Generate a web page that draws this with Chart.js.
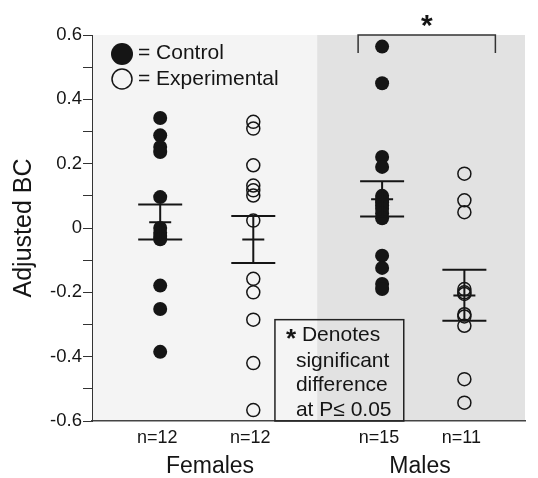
<!DOCTYPE html>
<html>
<head>
<meta charset="utf-8">
<script src="https://cdn.jsdelivr.net/npm/chart.js@4"></script>
<style>
html,body{margin:0;padding:0;background:#fff;}
canvas{display:block;}
</style>
</head>
<body>
<canvas id="c" width="538" height="478"></canvas>
<script>
// ---- data ----
const sexCategories = ['Females', 'Males'];
const groupNames = ['Female Control', 'Female Experimental', 'Male Control', 'Male Experimental'];
const nLabels = ['n=12', 'n=12', 'n=15', 'n=11'];
const femaleControl = [0.342, 0.288, 0.252, 0.236, 0.096, 0.0, -0.015, -0.025, -0.035, -0.179, -0.252, -0.385];
const femaleExperimental = [0.330, 0.309, 0.195, 0.132, 0.117, 0.101, 0.023, -0.158, -0.200, -0.285, -0.420, -0.566];
const maleControl = [0.564, 0.450, 0.221, 0.190, 0.100, 0.090, 0.080, 0.070, 0.060, 0.045, 0.030, -0.086, -0.124, -0.174, -0.190];
const maleExperimental = [0.169, 0.086, 0.049, -0.190, -0.200, -0.205, -0.268, -0.275, -0.304, -0.470, -0.543];
const groupMeans = [0.018, -0.036, 0.089, -0.210];
const groupUpperSE = [0.073, 0.037, 0.145, -0.130];
const groupLowerSE = [-0.036, -0.109, 0.036, -0.288];
const yTickLabels = ['-0.6', '-0.4', '-0.2', '0', '0.2', '0.4', '0.6'];
const legendLabels = ['= Control', '= Experimental'];
const noteLines = ['Denotes', 'significant', 'difference', 'at P\u2264 0.05'];

// ---- layout along the x axis (axis units) ----
const groupPos = [0.63, 1.49, 2.68, 3.44];
const sexPos = [1.09, 3.03];
const sexBoundary = 2.08;

const FONT = '"Liberation Sans", Arial, Helvetica, sans-serif';
const INK = '#151515';

const seriesValues = [femaleControl, femaleExperimental, maleControl, maleExperimental];
const datasets = seriesValues.map((vals, i) => {
  const filled = i % 2 === 0;
  return {
    label: groupNames[i],
    data: vals.map(v => ({x: groupPos[i], y: v})),
    pointRadius: filled ? 7 : 6.5,
    pointHoverRadius: filled ? 7 : 6.5,
    backgroundColor: filled ? INK : 'rgba(0,0,0,0)',
    borderColor: INK,
    borderWidth: filled ? 0 : 1.5,
    pointStyle: 'circle'
  };
});

const decorPlugin = {
  id: 'decor',
  beforeDraw(chart) {
    const {ctx, chartArea: a, scales: {x}} = chart;
    ctx.save();
    ctx.fillStyle = '#ffffff';
    ctx.fillRect(0, 0, chart.width, chart.height);
    const xb = x.getPixelForValue(sexBoundary);
    ctx.fillStyle = '#f4f4f4';
    ctx.fillRect(a.left, a.top, xb - a.left, a.bottom - a.top);
    ctx.fillStyle = '#e2e2e2';
    ctx.fillRect(xb, a.top, a.right - xb, a.bottom - a.top);
    ctx.restore();
  },
  afterDatasetsDraw(chart) {
    const {ctx, scales: {x, y}} = chart;
    ctx.save();
    ctx.strokeStyle = INK;
    ctx.lineWidth = 2;
    groupPos.forEach((p, i) => {
      const px = x.getPixelForValue(p);
      const yu = y.getPixelForValue(groupUpperSE[i]);
      const ym = y.getPixelForValue(groupMeans[i]);
      const yl = y.getPixelForValue(groupLowerSE[i]);
      ctx.beginPath();
      ctx.moveTo(px, yu); ctx.lineTo(px, yl);
      ctx.moveTo(px - 22, yu); ctx.lineTo(px + 22, yu);
      ctx.moveTo(px - 22, yl); ctx.lineTo(px + 22, yl);
      ctx.moveTo(px - 11, ym); ctx.lineTo(px + 11, ym);
      ctx.stroke();
    });
    ctx.restore();
  },
  afterDraw(chart) {
    const {ctx, chartArea: a, scales: {x, y}} = chart;
    ctx.save();
    ctx.fillStyle = INK;
    ctx.strokeStyle = INK;

    // legend
    const lx = a.left + 30;
    ctx.beginPath(); ctx.arc(lx, a.top + 19, 11, 0, Math.PI * 2); ctx.fill();
    ctx.lineWidth = 1.5;
    ctx.beginPath(); ctx.arc(lx, a.top + 44, 10, 0, Math.PI * 2); ctx.stroke();
    ctx.font = '21px ' + FONT;
    ctx.textAlign = 'left'; ctx.textBaseline = 'middle';
    ctx.fillText(legendLabels[0], a.left + 46, a.top + 18);
    ctx.fillText(legendLabels[1], a.left + 46, a.top + 44);

    // significance bracket
    const bx1 = x.getPixelForValue(groupPos[2]) - 24;
    const bx2 = x.getPixelForValue(groupPos[3]) + 31;
    const by = a.top;
    ctx.lineWidth = 1.5;
    ctx.strokeStyle = '#333';
    ctx.beginPath();
    ctx.moveTo(bx1, by + 18); ctx.lineTo(bx1, by); ctx.lineTo(bx2, by); ctx.lineTo(bx2, by + 18);
    ctx.stroke();
    ctx.font = 'bold 30px ' + FONT;
    ctx.textAlign = 'center'; ctx.textBaseline = 'middle';
    ctx.fillText('*', (bx1 + bx2) / 2, 27);

    // note box
    const boxL = x.getPixelForValue(1.69), boxR = x.getPixelForValue(2.88);
    const boxT = y.getPixelForValue(-0.285), boxB = a.bottom;
    ctx.strokeStyle = '#222';
    ctx.lineWidth = 1.5;
    ctx.strokeRect(boxL, boxT, boxR - boxL, boxB - boxT);
    ctx.fillStyle = INK;
    ctx.font = 'bold 26px ' + FONT;
    ctx.textAlign = 'center';
    ctx.fillText('*', boxL + 16, boxT + 20);
    ctx.font = '21px ' + FONT;
    ctx.textAlign = 'left';
    ctx.fillText(noteLines[0], boxL + 27, boxT + 16);
    ctx.fillText(noteLines[1], boxL + 21, boxT + 42);
    ctx.fillText(noteLines[2], boxL + 21, boxT + 66);
    ctx.fillText(noteLines[3], boxL + 21, boxT + 91);

    // n labels and sex labels
    ctx.fillStyle = INK;
    ctx.textAlign = 'center';
    ctx.font = '18px ' + FONT;
    groupPos.forEach((p, i) => {
      ctx.fillText(nLabels[i], x.getPixelForValue(p) - 3, a.bottom + 17);
    });
    ctx.font = '23px ' + FONT;
    sexPos.forEach((p, i) => {
      ctx.fillText(sexCategories[i], x.getPixelForValue(p), a.bottom + 46);
    });

    // y title
    ctx.save();
    ctx.translate(24, (a.top + a.bottom) / 2);
    ctx.rotate(-Math.PI / 2);
    ctx.font = '25px ' + FONT;
    ctx.textAlign = 'center'; ctx.textBaseline = 'middle';
    ctx.fillText('Adjusted BC', 0, 0);
    ctx.restore();

    ctx.restore();
  }
};

new Chart(document.getElementById('c'), {
  type: 'scatter',
  data: {datasets},
  options: {
    responsive: false,
    animation: false,
    devicePixelRatio: 1,
    layout: {padding: {top: 35, right: 13, left: 0, bottom: 0}},
    plugins: {legend: {display: false}, tooltip: {enabled: false}, title: {display: false}},
    scales: {
      x: {
        type: 'linear', min: 0, max: 4,
        grid: {display: false},
        ticks: {display: false},
        border: {display: true, color: '#444', width: 1.5},
        afterFit(s) { s.height = 57; }
      },
      y: {
        type: 'linear', min: -0.6, max: 0.6,
        afterBuildTicks(s) {
          const t = [];
          for (let k = -6; k <= 6; k++) t.push({value: k / 10});
          s.ticks = t;
        },
        ticks: {
          autoSkip: false,
          color: INK,
          font: {family: FONT, size: 18.5},
          padding: 1,
          callback(v) {
            const k = Math.round(v * 10);
            if (k % 2 !== 0) return '';
            return yTickLabels[(k + 6) / 2];
          }
        },
        grid: {display: true, drawOnChartArea: false, drawTicks: true, tickLength: 9, color: '#333', lineWidth: 1},
        border: {display: true, color: '#333', width: 1},
        afterFit(s) { s.width = 92; }
      }
    }
  },
  plugins: [decorPlugin]
});
</script>
</body>
</html>
